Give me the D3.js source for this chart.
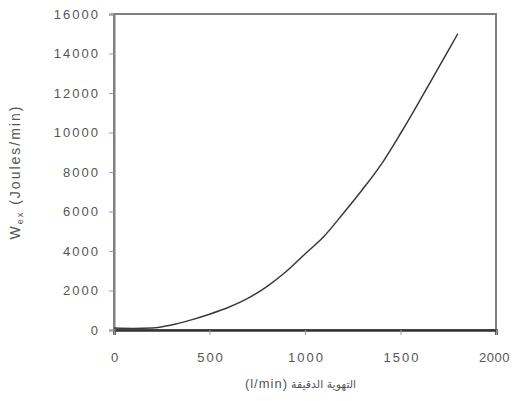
<!DOCTYPE html>
<html>
<head>
<meta charset="utf-8">
<script src="https://cdn.jsdelivr.net/npm/d3@7"></script>
<style>
  body { margin: 0; background: #fff; }
  svg { display: block; }
  .tick text { font-family: "Liberation Sans", Arial, sans-serif; font-size: 13px; fill: #555; letter-spacing: 2px; }
</style>
</head>
<body>
<div id="chart"></div>
<script>
// minute ventilation (l/min) vs W_ex (Joules/min)
var flowValues = [0, 100, 200, 300, 400, 500, 600, 700, 800, 900, 1000, 1100, 1200, 1300, 1400, 1500, 1600, 1700, 1800];
var workValues = [100, 80, 100, 250, 500, 800, 1150, 1600, 2200, 2950, 3850, 4750, 5900, 7100, 8400, 9950, 11600, 13300, 15000];
var xTicks = [0, 500, 1000, 1500, 2000];
var yTicks = [0, 2000, 4000, 6000, 8000, 10000, 12000, 14000, 16000];

var width = 512, height = 401;
var margin = {top: 14, right: 16, bottom: 71, left: 114};

var svg = d3.select("#chart").append("svg")
    .attr("width", width)
    .attr("height", height);

var x = d3.scaleLinear().domain([0, 2000]).range([margin.left, width - margin.right]);
var y = d3.scaleLinear().domain([0, 16000]).range([height - margin.bottom, margin.top]);

// frame
svg.append("rect")
    .attr("x", x(0))
    .attr("y", y(16000))
    .attr("width", x(2000) - x(0))
    .attr("height", y(0) - y(16000))
    .attr("fill", "none")
    .attr("stroke", "#808080")
    .attr("stroke-width", 2);

var xAxis = svg.append("g")
    .attr("transform", "translate(0," + y(0) + ")")
    .call(d3.axisBottom(x).tickValues(xTicks).tickSize(5).tickPadding(18).tickFormat(d3.format("d")));
xAxis.select(".domain").attr("stroke", "#333").attr("stroke-width", 2.5);
xAxis.selectAll(".tick line").attr("stroke", "#999");
xAxis.selectAll(".tick text").attr("dx", 1);
// last label sits at the page edge, squeeze it a bit so it stays visible
xAxis.selectAll(".tick text").filter(function (d) { return d === 2000; })
    .style("letter-spacing", "0.5px")
    .attr("dx", -2);

var yAxis = svg.append("g")
    .attr("transform", "translate(" + x(0) + ",0)")
    .call(d3.axisLeft(y).tickValues(yTicks).tickSize(5).tickPadding(9).tickFormat(d3.format("d")));
yAxis.select(".domain").attr("stroke", "#808080").attr("stroke-width", 2);
yAxis.selectAll(".tick line").attr("stroke", "#999");

var line = d3.line()
    .x(function (d, i) { return x(flowValues[i]); })
    .y(function (d) { return y(d); })
    .curve(d3.curveMonotoneX);

svg.append("path")
    .datum(workValues)
    .attr("d", line)
    .attr("fill", "none")
    .attr("stroke", "#3a3a3a")
    .attr("stroke-width", 1.5);

// y label
var yl = svg.append("text")
    .attr("transform", "translate(20,172) rotate(-90)")
    .attr("text-anchor", "middle")
    .attr("font-family", "Liberation Sans, Arial, sans-serif")
    .attr("font-size", 14)
    .attr("letter-spacing", 2)
    .attr("fill", "#555");
yl.append("tspan").text("W");
yl.append("tspan").attr("font-size", 9).attr("dy", 3).text("ex");
yl.append("tspan").attr("dy", -3).text(" (Joules/min)");

// x label: latin part on the left, arabic on the right
svg.append("text")
    .attr("x", 288)
    .attr("y", 388)
    .attr("text-anchor", "end")
    .attr("font-family", "Liberation Sans, Arial, sans-serif")
    .attr("font-size", 13)
    .attr("letter-spacing", 1)
    .attr("fill", "#555")
    .text("(l/min)");
svg.append("text")
    .attr("x", 291)
    .attr("y", 388)
    .attr("text-anchor", "start")
    .attr("font-family", "DejaVu Sans, sans-serif")
    .attr("font-size", 11)
    .attr("fill", "#555")
    .text("التهوية الدقيقة");
</script>
</body>
</html>
